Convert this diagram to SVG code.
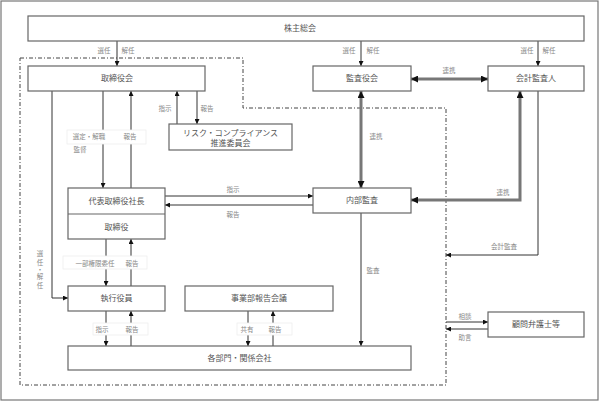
<svg xmlns="http://www.w3.org/2000/svg" width="600" height="402" viewBox="0 0 600 402">
<style>
.box{fill:#fff;stroke:#666;stroke-width:1.2}
.t{font-family:"Liberation Serif","Noto Sans CJK JP",serif;font-size:8px;fill:#555;text-anchor:middle;dominant-baseline:central}
.l{font-family:"Liberation Serif","Noto Sans CJK JP",serif;font-size:6.5px;fill:#888;text-anchor:middle;dominant-baseline:central}
.ln{stroke:#333;stroke-width:1;fill:none}
.th{stroke:#777;stroke-width:3;fill:none}
.lb{fill:#fff;stroke:#eee;stroke-width:0.8}
</style>
<defs>
<marker id="a" viewBox="0 0 10 10" refX="10" refY="5" markerWidth="5" markerHeight="5" markerUnits="userSpaceOnUse" orient="auto"><path d="M0,0L10,5L0,10z" fill="#111"/></marker>
<marker id="b" viewBox="0 0 10 10" refX="10" refY="5" markerWidth="7" markerHeight="7" markerUnits="userSpaceOnUse" orient="auto-start-reverse"><path d="M0,0L10,5L0,10z" fill="#111"/></marker>
</defs>
<rect x="1" y="1" width="597" height="399" fill="#fff" stroke="#777" stroke-width="1.2"/>
<path d="M20,58H243V108H446V385H20Z" fill="none" stroke="#444" stroke-width="1" stroke-dasharray="4,2,1,2"/>
<g id="connectors">
<line class="ln" x1="117" y1="41" x2="117" y2="66" marker-end="url(#a)"/>
<line class="ln" x1="361" y1="41" x2="361" y2="66" marker-end="url(#a)"/>
<line class="ln" x1="538" y1="41" x2="538" y2="66" marker-end="url(#a)"/>
<line class="th" x1="411" y1="79" x2="488" y2="79" marker-start="url(#b)" marker-end="url(#b)"/>
<line class="th" x1="361" y1="91" x2="361" y2="188" marker-start="url(#b)" marker-end="url(#b)"/>
<polyline class="th" points="520,91 520,200 411,200" marker-start="url(#b)" marker-end="url(#b)"/>
<polyline class="ln" points="538,91 538,255 446,255" marker-end="url(#a)"/>
<line class="ln" x1="177" y1="124" x2="177" y2="91" marker-end="url(#a)"/>
<line class="ln" x1="197" y1="91" x2="197" y2="124" marker-end="url(#a)"/>
<line class="ln" x1="103" y1="91" x2="103" y2="188" marker-end="url(#a)"/>
<line class="ln" x1="131" y1="188" x2="131" y2="91" marker-end="url(#a)"/>
<polyline class="ln" points="52,91 52,298 68,298" marker-end="url(#a)"/>
<line class="ln" x1="165" y1="196" x2="313" y2="196" marker-end="url(#a)"/>
<line class="ln" x1="313" y1="205" x2="165" y2="205" marker-end="url(#a)"/>
<line class="ln" x1="106" y1="239" x2="106" y2="286" marker-end="url(#a)"/>
<line class="ln" x1="131" y1="286" x2="131" y2="239" marker-end="url(#a)"/>
<line class="ln" x1="106" y1="311" x2="106" y2="346" marker-end="url(#a)"/>
<line class="ln" x1="131" y1="346" x2="131" y2="311" marker-end="url(#a)"/>
<line class="ln" x1="248" y1="311" x2="248" y2="346" marker-end="url(#a)"/>
<line class="ln" x1="273" y1="346" x2="273" y2="311" marker-end="url(#a)"/>
<line class="ln" x1="361" y1="213" x2="361" y2="346" marker-end="url(#a)"/>
<line class="ln" x1="446" y1="322" x2="488" y2="322" marker-end="url(#a)"/>
<line class="ln" x1="488" y1="329" x2="446" y2="329" marker-end="url(#a)"/>
<rect class="lb" x="67" y="130" width="79" height="14"/>
<rect class="lb" x="63" y="256" width="84" height="13"/>
<rect class="lb" x="93" y="323" width="55" height="12"/>
<rect class="lb" x="237" y="323" width="55" height="12"/>
<text class="l" x="104" y="50">選任</text><text class="l" x="128" y="50">解任</text>
<text class="l" x="349" y="50">選任</text><text class="l" x="373" y="50">解任</text>
<text class="l" x="527" y="50">選任</text><text class="l" x="549" y="50">解任</text>
<text class="l" x="449" y="70">連携</text>
<text class="l" x="376" y="136">連携</text>
<text class="l" x="503" y="192">連携</text>
<text class="l" x="504" y="246">会計監査</text>
<text class="l" x="165" y="108">指示</text><text class="l" x="207" y="108">報告</text>
<text class="l" x="89" y="136">選定・解職</text><text class="l" x="130" y="136">報告</text>
<text class="l" x="80" y="149">監督</text>
<text class="l" x="233" y="189">指示</text><text class="l" x="233" y="214">報告</text>
<text class="l" x="95" y="263">一部権限委任</text><text class="l" x="132" y="263">報告</text>
<text class="l" x="102" y="329">指示</text><text class="l" x="132" y="329">報告</text>
<text class="l" x="247" y="329">共有</text><text class="l" x="275" y="329">報告</text>
<text class="l" x="373" y="270">監査</text>
<text class="l" x="465" y="316">相談</text><text class="l" x="465" y="337">助言</text>
<text class="l" x="40" y="253">選</text><text class="l" x="40" y="262">任</text><text class="l" x="40" y="269">・</text><text class="l" x="40" y="276">解</text><text class="l" x="40" y="285">任</text>
</g>
<g id="kabunushi"><rect class="box" x="28" y="16" width="556" height="25"/><text class="t" x="300" y="28.5">株主総会</text></g>
<g id="torishimariyakukai"><rect class="box" x="28" y="66" width="177" height="25"/><text class="t" x="117" y="78.5">取締役会</text></g>
<g id="kansayakukai"><rect class="box" x="313" y="66" width="98" height="25"/><text class="t" x="362" y="78.5">監査役会</text></g>
<g id="kaikeikansanin"><rect class="box" x="488" y="66" width="96" height="25"/><text class="t" x="536" y="78.5">会計監査人</text></g>
<g id="risk"><rect class="box" x="169" y="124" width="123" height="26"/><text class="t" x="230.5" y="133">リスク・コンプライアンス</text><text class="t" x="230.5" y="143">推進委員会</text></g>
<g id="daihyo"><rect class="box" x="68" y="188" width="97" height="51"/><line x1="68" y1="214" x2="165" y2="214" stroke="#666" stroke-width="1.2"/><text class="t" x="116.5" y="201">代表取締役社長</text><text class="t" x="116.5" y="227">取締役</text></g>
<g id="naibukansa"><rect class="box" x="313" y="188" width="98" height="25"/><text class="t" x="362" y="200.5">内部監査</text></g>
<g id="shikkoyakuin"><rect class="box" x="68" y="286" width="97" height="25"/><text class="t" x="116.5" y="298.5">執行役員</text></g>
<g id="jigyobu"><rect class="box" x="185" y="286" width="148" height="25"/><text class="t" x="259" y="298.5">事業部報告会議</text></g>
<g id="kakubumon"><rect class="box" x="68" y="346" width="343" height="24"/><text class="t" x="239.5" y="358">各部門・関係会社</text></g>
<g id="komon"><rect class="box" x="488" y="312" width="96" height="25"/><text class="t" x="536" y="324.5">顧問弁護士等</text></g>
</svg>
